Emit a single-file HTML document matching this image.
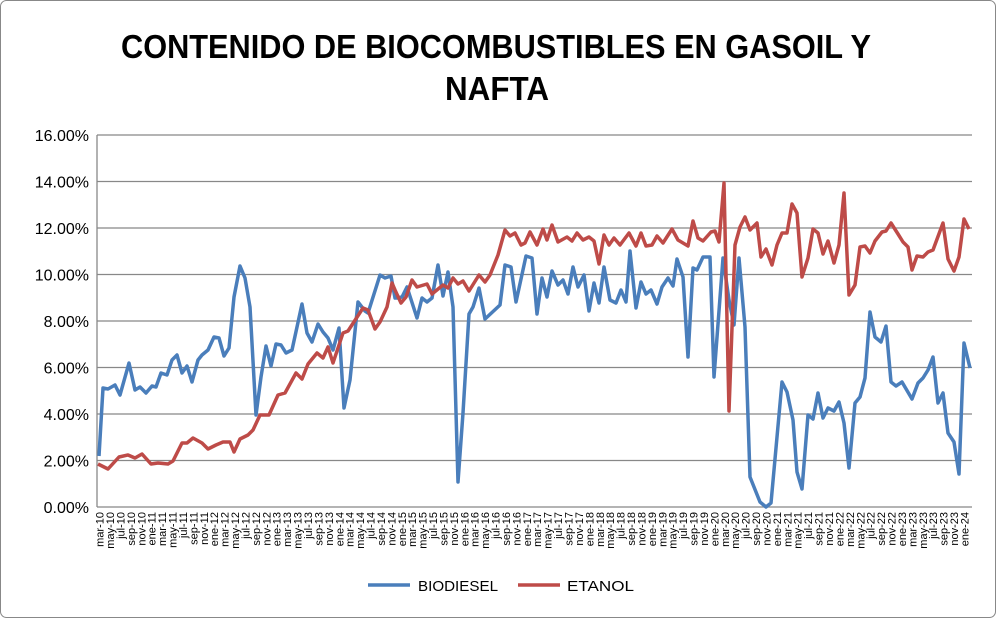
<!DOCTYPE html>
<html><head><meta charset="utf-8"><style>
html,body{margin:0;padding:0;background:#fff}
svg{display:block;font-family:"Liberation Sans",sans-serif}
</style></head><body>
<svg width="996" height="618" viewBox="0 0 996 618" xmlns="http://www.w3.org/2000/svg">
<rect x="0.5" y="0.5" width="995" height="617" rx="6" fill="#fff" stroke="#888"/>
<text x="496" y="58" font-size="33" font-weight="bold" text-anchor="middle" textLength="750" lengthAdjust="spacingAndGlyphs">CONTENIDO DE BIOCOMBUSTIBLES EN GASOIL Y</text>
<text x="497" y="100" font-size="33" font-weight="bold" text-anchor="middle" textLength="104" lengthAdjust="spacingAndGlyphs">NAFTA</text>
<g stroke="#888" stroke-width="1.3">
<line x1="97" y1="135" x2="972" y2="135"/><line x1="97" y1="181.5" x2="972" y2="181.5"/>
<line x1="97" y1="228" x2="972" y2="228"/><line x1="97" y1="274.5" x2="972" y2="274.5"/>
<line x1="97" y1="321" x2="972" y2="321"/><line x1="97" y1="367.5" x2="972" y2="367.5"/>
<line x1="97" y1="414" x2="972" y2="414"/><line x1="97" y1="460.5" x2="972" y2="460.5"/>
<line x1="97" y1="507" x2="972" y2="507"/><line x1="97" y1="135" x2="97" y2="507"/>
</g>
<g font-size="16" text-anchor="end" fill="#000">
<text x="89" y="141">16.00%</text><text x="89" y="187.5">14.00%</text><text x="89" y="234">12.00%</text>
<text x="89" y="280.5">10.00%</text><text x="89" y="327">8.00%</text><text x="89" y="373.5">6.00%</text>
<text x="89" y="420">4.00%</text><text x="89" y="466.5">2.00%</text><text x="89" y="513">0.00%</text>
</g>
<polyline fill="none" stroke="#4a7ebb" stroke-width="3.5" stroke-linejoin="round" points="99,456 103,388 108,389 115,385 120,395 129,363 135,390 140,387 146,393 152,386 156,387 161,373 167,375 172,360 177,355 182,373 187,366 192,382 198,360 202,355 208,350 214,337 219,338 224,356 229,348 234,297 240,266 245,278 250,307 256,415 261,377 266,346 271,366 276,344 281,345 286,353 292,350 302,304 307,333 312,342 318,324 323,332 328,338 333,350 339,328 344,408 350,380 358,302 365,311 368,313 380,275 385,278 391,276 395,298 397,298 402,297 407,287 417,318 422,298 427,302 432,298 438,265 443,296 448,272 453,307 458,482 463,413 469,314 473,307 479,288 485,319 500,305 505,265 511,267 516,302 526,256 532,258 537,314 542,278 547,297 552,271 558,285 563,280 568,294 573,267 578,287 584,275 589,311 594,283 599,303 604,267 610,300 616,303 621,290 626,302 630,251 636,308 641,282 646,294 651,290 657,304 662,287 668,278 673,286 677,259 683,277 688,357 693,268 697,270 703,257 710,257 714,377 723,258 729,300 734,325 739,258 745,327 750,477 760,502 766,507 771,503 782,382 787,392 793,420 797,472 802,489 808,415 813,419 818,393 823,418 828,408 834,411 839,402 844,423 849,468 855,403 860,397 865,378 870,312 875,337 881,342 886,326 891,382 896,386 902,382 912,399 918,383 923,378 928,370 933,357 938,403 943,393 948,433 954,442 959,474 964,343 970,368"/>
<polyline fill="none" stroke="#be4b48" stroke-width="3.5" stroke-linejoin="round" points="98,464 108,469 119,457 128,455 135,458 142,454 151,464 158,463 168,464 173,461 182,443 187,443 193,438 202,443 208,449 216,445 223,442 230,442 234,452 240,439 248,435 253,430 260,415 269,415 278,395 285,393 296,373 302,379 308,364 317,353 323,358 328,347 333,363 343,333 348,331 363,308 368,310 375,329 380,322 387,307 392,283 395,290 401,303 406,297 412,280 417,287 427,284 432,294 443,285 448,288 453,278 458,284 463,281 469,291 479,275 485,282 490,275 498,255 505,230 510,236 515,233 521,245 525,243 530,232 537,245 543,229 547,240 552,225 558,242 567,237 572,241 577,233 583,240 589,237 594,241 599,264 604,235 609,245 614,238 620,245 629,233 636,246 641,233 646,246 652,245 657,236 663,243 672,229 678,240 688,246 693,221 698,238 703,241 711,232 715,231 719,242 724,183 729,411 735,245 740,227 745,217 750,230 757,223 761,257 766,249 772,265 777,245 782,233 787,233 792,204 797,213 802,277 808,258 813,229 818,233 823,254 828,241 834,263 839,245 844,193 849,295 855,285 860,247 865,246 870,253 875,241 882,232 886,231 891,223 898,234 903,242 908,247 912,270 917,256 923,257 928,252 933,250 943,223 948,259 954,271 959,257 964,219 969,229"/>
<g font-size="11" text-anchor="end" fill="#000">
<text transform="translate(103.6,512) rotate(-90)">mar-10</text>
<text transform="translate(114.0,512) rotate(-90)">may-10</text>
<text transform="translate(124.4,512) rotate(-90)">jul-10</text>
<text transform="translate(134.9,512) rotate(-90)">sep-10</text>
<text transform="translate(145.3,512) rotate(-90)">nov-10</text>
<text transform="translate(155.7,512) rotate(-90)">ene-11</text>
<text transform="translate(166.1,512) rotate(-90)">mar-11</text>
<text transform="translate(176.5,512) rotate(-90)">may-11</text>
<text transform="translate(187.0,512) rotate(-90)">jul-11</text>
<text transform="translate(197.4,512) rotate(-90)">sep-11</text>
<text transform="translate(207.8,512) rotate(-90)">nov-11</text>
<text transform="translate(218.2,512) rotate(-90)">ene-12</text>
<text transform="translate(228.6,512) rotate(-90)">mar-12</text>
<text transform="translate(239.1,512) rotate(-90)">may-12</text>
<text transform="translate(249.5,512) rotate(-90)">jul-12</text>
<text transform="translate(259.9,512) rotate(-90)">sep-12</text>
<text transform="translate(270.3,512) rotate(-90)">nov-12</text>
<text transform="translate(280.7,512) rotate(-90)">ene-13</text>
<text transform="translate(291.2,512) rotate(-90)">mar-13</text>
<text transform="translate(301.6,512) rotate(-90)">may-13</text>
<text transform="translate(312.0,512) rotate(-90)">jul-13</text>
<text transform="translate(322.4,512) rotate(-90)">sep-13</text>
<text transform="translate(332.8,512) rotate(-90)">nov-13</text>
<text transform="translate(343.3,512) rotate(-90)">ene-14</text>
<text transform="translate(353.7,512) rotate(-90)">mar-14</text>
<text transform="translate(364.1,512) rotate(-90)">may-14</text>
<text transform="translate(374.5,512) rotate(-90)">jul-14</text>
<text transform="translate(384.9,512) rotate(-90)">sep-14</text>
<text transform="translate(395.4,512) rotate(-90)">nov-14</text>
<text transform="translate(405.8,512) rotate(-90)">ene-15</text>
<text transform="translate(416.2,512) rotate(-90)">mar-15</text>
<text transform="translate(426.6,512) rotate(-90)">may-15</text>
<text transform="translate(437.0,512) rotate(-90)">jul-15</text>
<text transform="translate(447.5,512) rotate(-90)">sep-15</text>
<text transform="translate(457.9,512) rotate(-90)">nov-15</text>
<text transform="translate(468.3,512) rotate(-90)">ene-16</text>
<text transform="translate(478.7,512) rotate(-90)">mar-16</text>
<text transform="translate(489.1,512) rotate(-90)">may-16</text>
<text transform="translate(499.6,512) rotate(-90)">jul-16</text>
<text transform="translate(510.0,512) rotate(-90)">sep-16</text>
<text transform="translate(520.4,512) rotate(-90)">nov-16</text>
<text transform="translate(530.8,512) rotate(-90)">ene-17</text>
<text transform="translate(541.2,512) rotate(-90)">mar-17</text>
<text transform="translate(551.7,512) rotate(-90)">may-17</text>
<text transform="translate(562.1,512) rotate(-90)">jul-17</text>
<text transform="translate(572.5,512) rotate(-90)">sep-17</text>
<text transform="translate(582.9,512) rotate(-90)">nov-17</text>
<text transform="translate(593.3,512) rotate(-90)">ene-18</text>
<text transform="translate(603.8,512) rotate(-90)">mar-18</text>
<text transform="translate(614.2,512) rotate(-90)">may-18</text>
<text transform="translate(624.6,512) rotate(-90)">jul-18</text>
<text transform="translate(635.0,512) rotate(-90)">sep-18</text>
<text transform="translate(645.4,512) rotate(-90)">nov-18</text>
<text transform="translate(655.9,512) rotate(-90)">ene-19</text>
<text transform="translate(666.3,512) rotate(-90)">mar-19</text>
<text transform="translate(676.7,512) rotate(-90)">may-19</text>
<text transform="translate(687.1,512) rotate(-90)">jul-19</text>
<text transform="translate(697.5,512) rotate(-90)">sep-19</text>
<text transform="translate(708.0,512) rotate(-90)">nov-19</text>
<text transform="translate(718.4,512) rotate(-90)">ene-20</text>
<text transform="translate(728.8,512) rotate(-90)">mar-20</text>
<text transform="translate(739.2,512) rotate(-90)">may-20</text>
<text transform="translate(749.6,512) rotate(-90)">jul-20</text>
<text transform="translate(760.1,512) rotate(-90)">sep-20</text>
<text transform="translate(770.5,512) rotate(-90)">nov-20</text>
<text transform="translate(780.9,512) rotate(-90)">ene-21</text>
<text transform="translate(791.3,512) rotate(-90)">mar-21</text>
<text transform="translate(801.7,512) rotate(-90)">may-21</text>
<text transform="translate(812.2,512) rotate(-90)">jul-21</text>
<text transform="translate(822.6,512) rotate(-90)">sep-21</text>
<text transform="translate(833.0,512) rotate(-90)">nov-21</text>
<text transform="translate(843.4,512) rotate(-90)">ene-22</text>
<text transform="translate(853.8,512) rotate(-90)">mar-22</text>
<text transform="translate(864.3,512) rotate(-90)">may-22</text>
<text transform="translate(874.7,512) rotate(-90)">jul-22</text>
<text transform="translate(885.1,512) rotate(-90)">sep-22</text>
<text transform="translate(895.5,512) rotate(-90)">nov-22</text>
<text transform="translate(905.9,512) rotate(-90)">ene-23</text>
<text transform="translate(916.4,512) rotate(-90)">mar-23</text>
<text transform="translate(926.8,512) rotate(-90)">may-23</text>
<text transform="translate(937.2,512) rotate(-90)">jul-23</text>
<text transform="translate(947.6,512) rotate(-90)">sep-23</text>
<text transform="translate(958.0,512) rotate(-90)">nov-23</text>
<text transform="translate(968.5,512) rotate(-90)">ene-24</text>
</g>
<line x1="368" y1="585" x2="410" y2="585" stroke="#4a7ebb" stroke-width="3.5"/>
<text x="418" y="591" font-size="15" textLength="80" lengthAdjust="spacingAndGlyphs">BIODIESEL</text>
<line x1="518" y1="585" x2="560" y2="585" stroke="#be4b48" stroke-width="3.5"/>
<text x="567" y="591" font-size="15" textLength="67" lengthAdjust="spacingAndGlyphs">ETANOL</text>
</svg>
</body></html>
